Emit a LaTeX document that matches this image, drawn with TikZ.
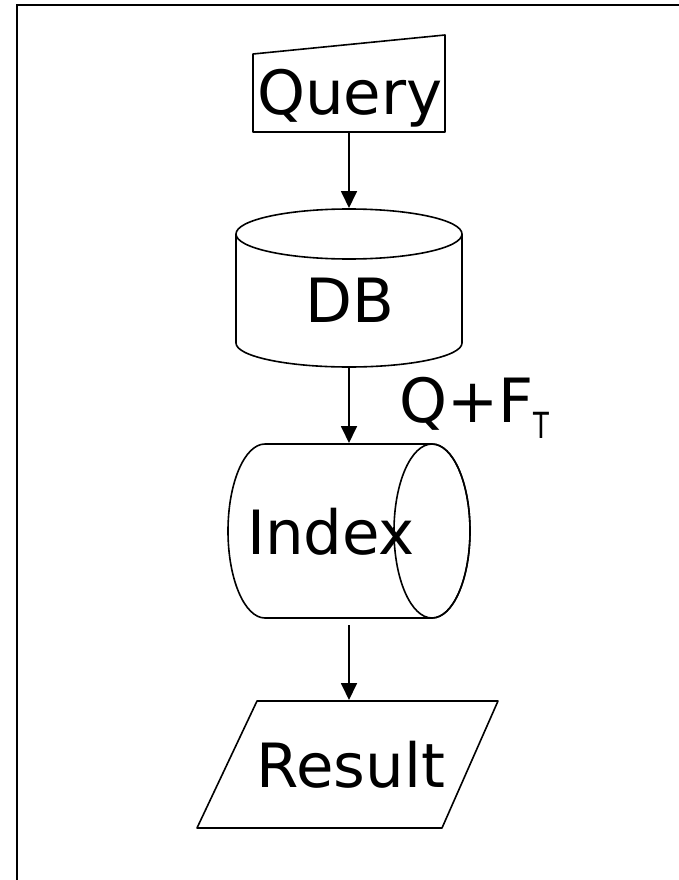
\documentclass[tikz,border=0pt]{standalone}
\usepackage{fontspec}
\setmainfont{DejaVu Sans}
\usetikzlibrary{arrows.meta}
\begin{document}
\begin{tikzpicture}[x=1pt,y=-1pt,
  outline/.style={draw=black,line width=1.6pt,line join=round,fill=white},
  label/.style={inner sep=0pt,font=\fontsize{61}{70}\selectfont},
  flow/.style={line width=1.8pt,-{Triangle[length=17pt,width=16pt]}}]
  \useasboundingbox (0,0) rectangle (679,880);
  \fill[white] (0,0) rectangle (679,880);
  % frame edges
  \draw[line width=2.2pt] (17,880) -- (17,5) -- (679,5);

  % Query (manual input)
  \draw[outline] (253,54) -- (445,35) -- (445,132) -- (253,132) -- cycle;
  \node[label,anchor=base] (query) at (350,115) {Query};

  % DB (vertical cylinder); y grows downwards, so arcs run 180 -> 0 to bulge down
  \draw[outline] (236,234) -- (236,343) arc[start angle=180,end angle=0,x radius=113,y radius=24]
    -- (462,234) arc[start angle=0,end angle=-180,x radius=113,y radius=25] -- cycle;
  \draw[outline,fill=none] (236,234) arc[start angle=180,end angle=0,x radius=113,y radius=25];
  \node[label,anchor=base] (db) at (350,322) {DB};

  % Index (horizontal cylinder)
  \draw[outline] (265,444) -- (432,444)
    arc[start angle=-90,end angle=90,x radius=38,y radius=87] -- (265,618)
    arc[start angle=90,end angle=270,x radius=37,y radius=87] -- cycle;
  \node[label,anchor=base] (index) at (331,554) {Index};
  \draw[outline,fill=none] (432,531) ellipse[x radius=38,y radius=87];

  % Result (parallelogram)
  \draw[outline] (257,701) -- (498,701) -- (442,828) -- (197,828) -- cycle;
  \node[label,anchor=base] (result) at (351,787) {Result};

  % connector label
  \node[label,anchor=base west] (qf) at (399,422)
    {Q+F\raisebox{-16pt}{\fontsize{36}{40}\selectfont\scalebox{0.72}[1]{T}}};

  % connector end points
  \coordinate (q-out) at (349,133);
  \coordinate (db-in) at (349,208);
  \coordinate (db-out) at (349,368);
  \coordinate (ix-in) at (349,443);
  \coordinate (ix-out) at (349,625);
  \coordinate (rs-in) at (349,700);

  \draw[flow] (q-out) -- (db-in);
  \draw[flow] (db-out) -- (ix-in);
  \draw[flow] (ix-out) -- (rs-in);
\end{tikzpicture}
\end{document}
